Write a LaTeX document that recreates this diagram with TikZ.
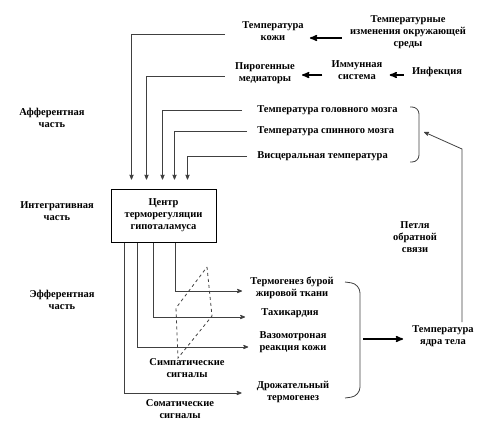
\documentclass[tikz,border=0pt]{standalone}
\usepackage{fontspec}
\setmainfont{Liberation Serif}
\usetikzlibrary{arrows,positioning}
\tikzstyle{tx} = [text centered, align=center, inner sep=3pt,
    font=\bfseries\fontsize{10.5}{12}\selectfont]
\tikzstyle{bx} = [rectangle, draw, line width=1pt, tx,
    minimum width=105pt, minimum height=53pt]
\tikzstyle{ln} = [draw=black!75, line width=0.8pt]
\tikzstyle{tk} = [draw=black, line width=1.5pt]

\begin{document}
\begin{tikzpicture}[->,>=stealth',x=1pt,y=-1pt,semithick]
  \useasboundingbox (0,0) rectangle (500,437);

  % afferent inputs
  \node[tx] (skin)   at (273,31)  {Температура\\кожи};
  \node[tx] (envch)  at (408,32)  {Температурные\\изменения окружающей\\среды};
  \node[tx] (pyro)   at (265,73)  {Пирогенные\\медиаторы};
  \node[tx] (immune) at (357,70)  {Иммунная\\система};
  \node[tx] (infect) at (437,72)  {Инфекция};
  \node[tx,anchor=west] (brain)  at (254,110) {Температура головного мозга};
  \node[tx,anchor=west] (spinal) at (254,131) {Температура спинного мозга};
  \node[tx,anchor=west] (visc)   at (254,156) {Висцеральная температура};

  % centre
  \node[bx] (hypo) at (163.5,215.5) {Центр\\терморегуляции\\гипоталамуса};

  % side labels
  \node[tx] (aff)   at (52,118) {Афферентная\\часть};
  \node[tx] (integ) at (57,211) {Интегративная\\часть};
  \node[tx] (eff)   at (62,300) {Эфферентная\\часть};
  \node[tx] (loop)  at (415,237) {Петля\\обратной\\связи};

  % effectors
  \node[tx] (brown)  at (292,287.5) {Термогенез бурой\\жировой ткани};
  \node[tx] (tachy)  at (290,313)   {Тахикардия};
  \node[tx] (vaso)   at (293,342)   {Вазомотроная\\реакция кожи};
  \node[tx] (shiver) at (293,392)   {Дрожательный\\термогенез};
  \node[tx] (core)   at (443,336)   {Температура\\ядра тела};
  \node[tx] (symp)   at (187,368)   {Симпатические\\сигналы};
  \node[tx] (somat)  at (180,409)   {Соматические\\сигналы};

  \coordinate (brmid)  at (424,132);
  \coordinate (fbturn) at (462,149);
  \coordinate (effbr)  at (363,339);

  \draw[tk,shorten <=5pt,shorten >=3pt] ([yshift=-6pt]envch.west) -- (skin.east |- 0,38);
  \draw[tk,shorten <=6pt,shorten >=4pt] (immune.west |- 0,75) -- (pyro.east |- 0,75);
  \draw[tk,shorten <=5pt,shorten >=4pt] (infect.west |- 0,75) -- (immune.east |- 0,75);

  \draw[ln,shorten <=14pt,shorten >=9pt] ([yshift=-3pt]skin.west) -| ([xshift=21pt]hypo.north west);
  \draw[ln,shorten <=7pt,shorten >=9pt] ([yshift=-3pt]pyro.west) -| ([xshift=36pt]hypo.north west);
  \draw[ln,shorten <=12pt,shorten >=9pt] (brain.west) -| ([xshift=52pt]hypo.north west);
  \draw[ln,shorten <=7pt,shorten >=9pt] (spinal.west) -| ([xshift=64pt]hypo.north west);
  \draw[ln,shorten <=7pt,shorten >=9pt] (visc.west) -| ([xshift=77pt]hypo.north west);

  \draw[ln,shorten >=5pt] ([xshift=65pt]hypo.south west) |- ([yshift=-3.5pt]brown.west);
  \draw[ln,shorten >=13pt] ([xshift=43pt]hypo.south west) |- ([yshift=-4pt]tachy.west);
  \draw[ln,shorten >=8pt] ([xshift=27pt]hypo.south west) |- ([yshift=-5pt]vaso.west);
  \draw[ln,shorten >=12pt] ([xshift=14pt]hypo.south west) |- ([yshift=-1pt]shiver.west);

  \draw[-,ln,dashed] (207,267) -- (212,316) -- (178,358) -- (176,308) -- cycle;

  % brackets
  \draw[-,ln,rounded corners=7pt] (410,107) -- (419,107) -- (419,162) -- (410,162);
  \draw[-,ln,rounded corners=9pt] (345,282) -- (360,284) -- (360,396) -- (345,398);

  \draw[tk,shorten >=6pt] (effbr) -- (core.west |- effbr);
  \draw[ln] (core.north -| fbturn) -- (fbturn) -- (brmid);
\end{tikzpicture}
\end{document}
